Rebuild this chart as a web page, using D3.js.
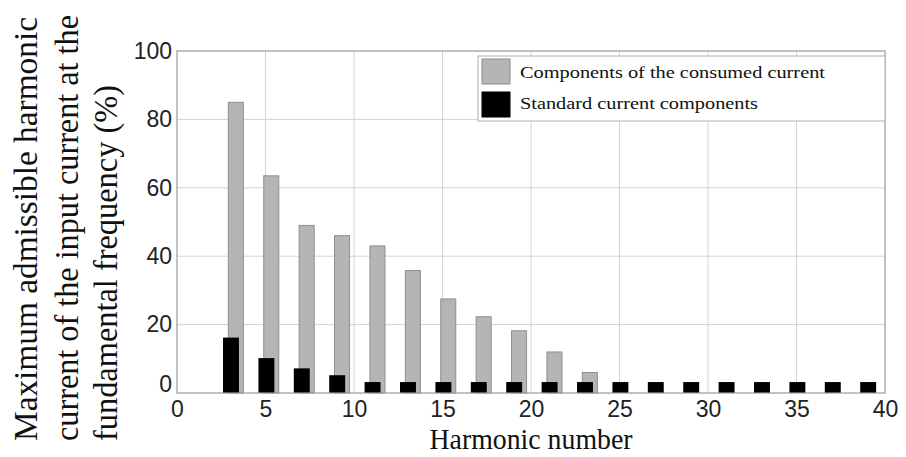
<!DOCTYPE html>
<html><head><meta charset="utf-8">
<script src="https://cdn.jsdelivr.net/npm/d3@7"></script>
<style>body{margin:0;background:#fff}svg{display:block}.serif{font-family:'Liberation Serif','Times New Roman',serif}.sans{font-family:'Liberation Sans',Arial,sans-serif}</style>
</head><body>
<svg id="c" width="906" height="457"></svg>
<script>
const harmonics = [3,5,7,9,11,13,15,17,19,21,23,25,27,29,31,33,35,37,39];
const consumed  = [85,63.5,49,46,43,35.8,27.5,22.3,18.2,12,6,0,0,0,0,0,0,0,0];
const standard  = [16.2,10.2,7.2,5.2,3.2,3.2,3.2,3.2,3.2,3.2,3.2,3.2,3.2,3.2,3.2,3.2,3.2,3.2,3.2];
const xTicks = [0,5,10,15,20,25,30,35,40];
const yTicks = [0,20,40,60,80,100];
const legendLabels = ["Components of the consumed current","Standard current components"];
const yLabelLines = ["Maximum admissible harmonic","current of the input current at the","fundamental frequency (%)"];
const xLabel = "Harmonic number";

const svg = d3.select("#c");
const x = d3.scaleLinear().domain([0,40]).range([177,885]);
const y = d3.scaleLinear().domain([0,100]).range([393,51]);

// grid
svg.append("g").selectAll("line").data(xTicks.slice(1,-1)).join("line")
  .attr("x1",d=>x(d)).attr("x2",d=>x(d)).attr("y1",y(0)).attr("y2",y(100))
  .attr("stroke","#d4d4d4").attr("stroke-width",1);
svg.append("g").selectAll("line").data(yTicks.slice(1,-1)).join("line")
  .attr("x1",x(0)).attr("x2",x(40)).attr("y1",d=>y(d)).attr("y2",d=>y(d))
  .attr("stroke","#d4d4d4").attr("stroke-width",1);

// bars
svg.append("g").selectAll("rect").data(harmonics.map((h,i)=>({h,v:consumed[i]})).filter(d=>d.v>0)).join("rect")
  .attr("x",d=>x(d.h-0.1)).attr("width",d=>x(d.h+0.75)-x(d.h-0.1))
  .attr("y",d=>y(d.v)).attr("height",d=>y(0)-y(d.v))
  .attr("fill","#b5b5b5").attr("stroke","#8f8f8f").attr("stroke-width",1);
svg.append("g").selectAll("rect").data(harmonics.map((h,i)=>({h,v:standard[i]}))).join("rect")
  .attr("x",d=>x(d.h-0.4)).attr("width",d=>x(d.h+0.5)-x(d.h-0.4))
  .attr("y",d=>y(d.v)).attr("height",d=>y(0)-y(d.v))
  .attr("fill","#000");

// box
svg.append("rect").attr("x",x(0)).attr("y",y(100)).attr("width",x(40)-x(0)).attr("height",y(0)-y(100))
  .attr("fill","none").attr("stroke","#9a9a9a").attr("stroke-width",1.2);

// axes
const ax = svg.append("g").attr("transform",`translate(0,${y(0)})`)
  .call(d3.axisBottom(x).tickValues(xTicks).tickSize(0).tickPadding(8).tickFormat(d3.format("d")));
ax.select(".domain").remove();
ax.attr("font-family",null).attr("font-size",null);
ax.selectAll("text").attr("class","sans").style("font-size","23px").attr("fill","#222");
const ay = svg.append("g").attr("transform",`translate(${x(0)},0)`)
  .call(d3.axisLeft(y).tickValues(yTicks).tickSize(0).tickPadding(5).tickFormat(d3.format("d")));
ay.select(".domain").remove();
ay.attr("font-family",null).attr("font-size",null);
ay.selectAll("text").attr("class","sans").style("font-size","23px").attr("fill","#222");
ay.selectAll(".tick").filter(d=>d===0).select("text").attr("dy","-0.05em");

// legend
const lg = svg.append("g");
lg.append("rect").attr("x",478).attr("y",56).attr("width",407).attr("height",65)
  .attr("fill","#fff").attr("stroke","#b0b0b0").attr("stroke-width",1);
const swatchFill = ["#b5b5b5","#000"];
const legLen = [305,238];
legendLabels.forEach((t,i)=>{
  lg.append("rect").attr("x",482).attr("y",59+i*33).attr("width",28).attr("height",25)
    .attr("fill",swatchFill[i]).attr("stroke",i===0?"#8f8f8f":"#000");
  lg.append("text").attr("class","serif").attr("x",520).attr("y",78+i*31).text(t)
    .style("font-size","16px")
    .attr("textLength",legLen[i]).attr("lengthAdjust","spacingAndGlyphs").attr("fill","#111");
});

// axis labels
svg.append("text").attr("class","serif").attr("x",531).attr("y",449).attr("text-anchor","middle").text(xLabel)
  .style("font-size","30px")
  .attr("textLength",203).attr("lengthAdjust","spacingAndGlyphs").attr("fill","#111");
const yLens = [424,426,356];
const yBase = [37,78,117];
yLabelLines.forEach((t,i)=>{
  svg.append("text").attr("class","serif").attr("transform",`translate(${yBase[i]},441) rotate(-90)`)
    .attr("text-anchor","start").text(t)
    .style("font-size","33px")
    .attr("textLength",yLens[i]).attr("lengthAdjust","spacingAndGlyphs").attr("fill","#111");
});
</script>
</body></html>
